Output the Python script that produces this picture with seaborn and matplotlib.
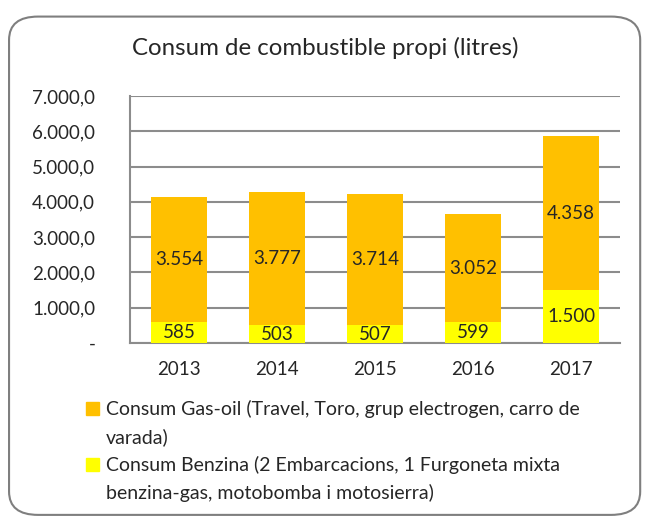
import numpy as np
import pandas as pd
import seaborn as sns
import matplotlib.pyplot as plt
from matplotlib.patches import FancyBboxPatch, Patch
from matplotlib.ticker import FuncFormatter

years = ['2013', '2014', '2015', '2016', '2017']
gasoil = [3554, 3777, 3714, 3052, 4358]
benzina = [585, 503, 507, 599, 1500]
label_gasoil = ['Consum Gas-oil (Travel, Toro, grup electrogen, carro de', 'varada)']
label_benzina = ['Consum Benzina (2 Embarcacions, 1 Furgoneta mixta',
                 'benzina-gas, motobomba i motosierra)']


def fmt_thousands(v):
    return f'{v:,.0f}'.replace(',', '.')


def fmt_axis(v, pos):
    if v == 0:
        return '-'
    return f'{v:,.1f}'.replace(',', 'X').replace('.', ',').replace('X', '.')


if __name__ == "__main__":
    sns.set_style('white')
    plt.rcParams['font.family'] = ['Lato', 'DejaVu Sans']
    orange, yellow, grid = '#FFC000', '#FFFF00', '#8C8C8C'
    fs = 13.5

    df = pd.DataFrame({'year': years, 'gasoil': gasoil, 'benzina': benzina})
    df['total'] = df['gasoil'] + df['benzina']

    fig = plt.figure(figsize=(6.46, 5.18), dpi=100)
    fig.patches.append(FancyBboxPatch((0.014, 0.006), 0.977, 0.962,
                                      boxstyle='round,pad=0,rounding_size=0.045',
                                      transform=fig.transFigure, fc='none',
                                      ec='#7F7F7F', lw=1.5, zorder=-1))
    ax = fig.add_axes([0.2012, 0.3378, 0.7586, 0.4769])
    ax.set_facecolor('none')

    sns.barplot(data=df, x='year', y='total', color=orange, width=0.57,
                saturation=1, ax=ax, zorder=2, linewidth=0)
    sns.barplot(data=df, x='year', y='benzina', color=yellow, width=0.57,
                saturation=1, ax=ax, zorder=3, linewidth=0)

    # labels at centre of each segment
    ax.bar_label(ax.containers[1], labels=[fmt_thousands(v) for v in benzina],
                 label_type='center', fontsize=fs, zorder=4)
    for i, (b, g) in enumerate(zip(benzina, gasoil)):
        ax.text(i, b + g / 2, fmt_thousands(g), ha='center', va='center',
                fontsize=fs, zorder=4)

    ax.set_ylim(0, 7000)
    ax.set_xlim(-0.5, 4.5)
    ax.set_yticks(np.arange(0, 7001, 1000))
    ax.yaxis.set_major_formatter(FuncFormatter(fmt_axis))
    ax.yaxis.grid(True, color=grid, lw=1.5, zorder=1)
    ax.set_axisbelow(True)
    ax.tick_params(axis='y', length=0, pad=25, labelsize=fs)
    ax.tick_params(axis='x', length=0, pad=13, labelsize=fs)
    for s in ['top', 'right']:
        ax.spines[s].set_visible(False)
    for s in ['left', 'bottom']:
        ax.spines[s].set_color(grid)
        ax.spines[s].set_linewidth(1.5)
    ax.set_xlabel('')
    ax.set_ylabel('')

    fig.text(0.503, 0.908, 'Consum de combustible propi (litres)',
             ha='center', va='center', fontsize=17.3)

    # one legend row per text line, handle only on the first line of each entry
    handles = [Patch(color=orange), Patch(alpha=0),
               Patch(color=yellow), Patch(alpha=0)]
    labels = label_gasoil + label_benzina
    fig.legend(handles, labels, loc='upper left',
               bbox_to_anchor=(0.133, 0.228), frameon=False, fontsize=14,
               handlelength=0.66, handleheight=0.66, handletextpad=0.35,
               labelspacing=0.52, borderpad=0, borderaxespad=0)

    fig.savefig('out.png', dpi=100)
